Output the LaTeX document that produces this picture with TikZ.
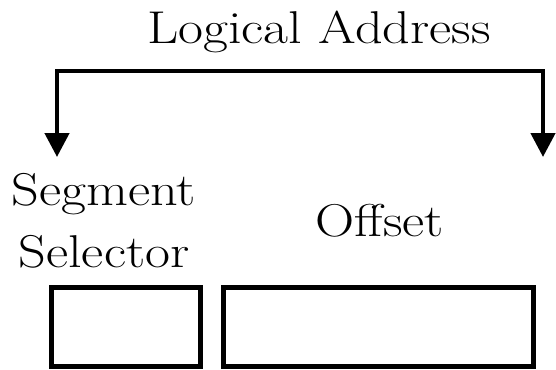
\documentclass[tikz,border=0pt]{standalone}
\usepackage{graphicx}
\usetikzlibrary{arrows.meta}
\newcommand{\wdtxt}[1]{\scalebox{1.18}[1]{#1}}
\begin{document}
\begin{tikzpicture}[x=1pt,y=-1pt,
  lbl/.style={font=\fontsize{46}{62}\selectfont, inner sep=0pt, anchor=base, align=center},
  field/.style={draw, line width=5pt, minimum height=78.5pt, inner sep=0pt},
  conn/.style={line width=4.5pt, line join=miter, {Triangle[length=24pt,width=24pt]}-{Triangle[length=24pt,width=24pt]}}]
\useasboundingbox (0,0) rectangle (556,369);
\node[lbl] (la) at (319,44) {\wdtxt{Logical Address}};
\coordinate (tl) at (57,71);
\coordinate (tr) at (543,71);
\coordinate (al) at (57,157);
\coordinate (ar) at (543,157);
\draw[conn] (al) -- (tl) -- (tr) -- (ar);
\node[lbl] (seg) at (104,267) {\wdtxt{Segment}\\\wdtxt{Selector}};
\node[lbl] (off) at (380,236) {\wdtxt{Offset}};
\node[field, minimum width=149pt] (bsel) at (126,326.75) {};
\node[field, minimum width=310pt] (boff) at (378.5,326.75) {};
\end{tikzpicture}
\end{document}
